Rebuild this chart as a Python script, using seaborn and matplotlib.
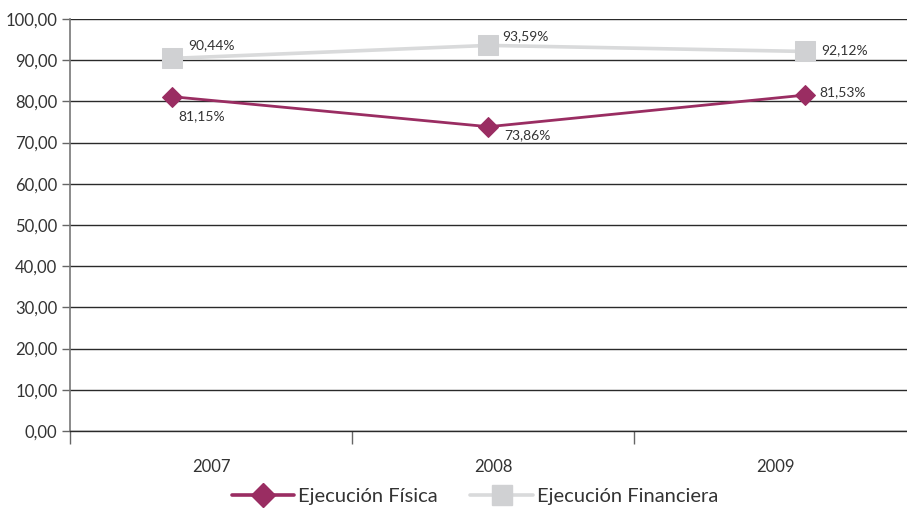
import matplotlib
matplotlib.use("Agg")
import matplotlib.pyplot as plt
import seaborn as sns
import pandas as pd
from matplotlib.lines import Line2D

years = ["2007", "2008", "2009"]
fisica = [81.15, 73.86, 81.53]
financiera = [90.44, 93.59, 92.12]
fisica_labels = ["81,15%", "73,86%", "81,53%"]
financiera_labels = ["90,44%", "93,59%", "92,12%"]
yticks = [0, 10, 20, 30, 40, 50, 60, 70, 80, 90, 100]

sns.set_theme(style="white")
plt.rcParams["font.family"] = ["Lato", "DejaVu Sans"]

c_fis = "#9A2D62"
c_fin = "#D0D1D3"
c_fin_line = "#D9DADB"
txt = "#333333"

idx = list(range(len(years)))
df_fis = pd.DataFrame({"x": idx, "v": fisica})
df_fin = pd.DataFrame({"x": idx, "v": financiera})

fig = plt.figure(figsize=(9.07, 5.08), dpi=100)
ax = fig.add_axes([70/907, 1 - 431/508, 1 - 70/907, (431 - 19)/508])

# gridlines
for y in yticks:
    ax.axhline(y, color="#2a2a2a", lw=1.0, zorder=1)

sns.lineplot(data=df_fin, x="x", y="v", ax=ax, color=c_fin_line, lw=2.6,
             marker="s", markersize=14.5, markerfacecolor=c_fin,
             markeredgecolor=c_fin, zorder=3)
sns.lineplot(data=df_fis, x="x", y="v", ax=ax, color=c_fis, lw=2.0,
             marker="D", markersize=10.5, markerfacecolor=c_fis,
             markeredgecolor=c_fis, zorder=4)

# data labels
fin_off = [(16, 13), (14, 9), (16, 1)]
fis_off = [(6, -19), (16, -8), (14, 3)]
for i in idx:
    ax.annotate(financiera_labels[i], (i, financiera[i]), xytext=fin_off[i],
                textcoords="offset pixels", fontsize=10, color=txt,
                ha="left", va="center")
    ax.annotate(fisica_labels[i], (i, fisica[i]), xytext=fis_off[i],
                textcoords="offset pixels", fontsize=10, color=txt,
                ha="left", va="center")

ppu = 316.5
x0 = -(172 - 70) / ppu
x1 = x0 + (907 - 70) / ppu
ax.set_xlim(x0, x1)
ax.set_ylim(0, 100)

ax.set_yticks(yticks)
ax.set_yticklabels([f"{v:.2f}".replace(".", ",") for v in yticks])
ax.tick_params(axis="y", which="major", length=6, width=1, color="#666666",
               left=True, pad=3, labelsize=12, labelcolor=txt, direction="out")

bounds = [x0] + [(352 - 172) / ppu, (634 - 172) / ppu]
centers = [(211 - 172) / ppu, (493 - 172) / ppu, (775 - 172) / ppu]
ax.set_xticks(bounds)
ax.set_xticklabels([""] * len(bounds))
ax.set_xticks(centers, minor=True)
ax.set_xticklabels(years, minor=True)
ax.tick_params(axis="x", which="major", length=9, width=1, color="#666666",
               bottom=True, direction="out")
ax.tick_params(axis="x", which="minor", length=0, pad=20, labelsize=12,
               labelcolor=txt)
ax.set_xlabel("")
ax.set_ylabel("")

for s in ["top", "right"]:
    ax.spines[s].set_visible(False)
ax.spines["left"].set_color("#777777")
ax.spines["left"].set_linewidth(1.2)
ax.spines["bottom"].set_color("#2a2a2a")
ax.spines["bottom"].set_linewidth(1.0)

handles = [
    Line2D([0], [0], color=c_fis, lw=2.6, marker="D", markersize=12,
           markerfacecolor=c_fis, markeredgecolor=c_fis),
    Line2D([0], [0], color=c_fin_line, lw=2.6, marker="s", markersize=15,
           markerfacecolor=c_fin, markeredgecolor=c_fin),
]
fig.legend(handles, ["Ejecución Física", "Ejecución Financiera"],
           loc="center", bbox_to_anchor=(475/907, 1 - 496/508), ncol=2,
           frameon=False, fontsize=14.5, handlelength=3.1, columnspacing=1.6,
           handletextpad=0.2, labelcolor=txt)

fig.savefig("out.png", dpi=100)
